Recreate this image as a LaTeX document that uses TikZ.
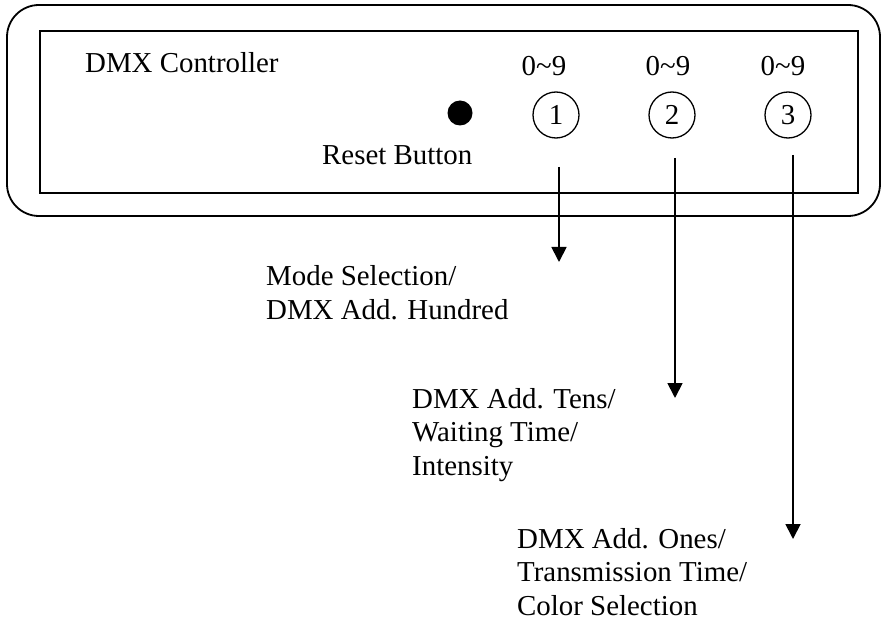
\documentclass[tikz,border=0pt]{standalone}
\usepackage{fontspec}
\setmainfont{Liberation Serif}
\usetikzlibrary{arrows.meta}
\tikzset{
  frame/.style={draw=black, line width=1.8bp},
  caption/.style={anchor=base west, inner sep=0pt, font=\fontsize{29}{33.5}\selectfont, align=left},
  rangetxt/.style={anchor=base, inner sep=0pt, font=\fontsize{29}{33.5}\selectfont},
  knob/.style={circle, draw=black, line width=1.3bp, minimum size=46bp, inner sep=0pt,
               font=\fontsize{29}{33.5}\selectfont},
  lead/.style={draw=black, line width=1.8bp, -{Triangle[width=15bp,length=15bp]}}
}
\begin{document}
\begin{tikzpicture}[x=1bp,y=-1bp]
  \useasboundingbox (0,0) rectangle (882,620);
  % housing and front panel
  \draw[frame, rounded corners=32bp] (7,5) rectangle (880,216);
  \draw[frame] (40,31) rectangle (858,193);
  \node[caption] (title) at (85,73) {DMX Controller};
  % reset button
  \node[circle, fill=black, minimum size=25bp, inner sep=0pt] (reset) at (460,113) {};
  \node[caption] (resetlbl) at (322,165) {Reset Button};
  % rotary switches
  \node[knob] (k1) at (556,115) {1};
  \node[knob] (k2) at (672,115) {2};
  \node[knob] (k3) at (788,115) {3};
  \node[rangetxt] (r1) at (544,76) {0\char`~9};
  \node[rangetxt] (r2) at (668,76) {0\char`~9};
  \node[rangetxt] (r3) at (783,76) {0\char`~9};
  % functions of the switches (anchor sits on the last line)
  \node[caption] (f1) at (266,319) {Mode Selection/\\DMX Add. Hundred};
  \node[caption] (f2) at (412,475) {DMX Add. Tens/\\Waiting Time/\\Intensity};
  \node[caption] (f3) at (517,615) {DMX Add. Ones/\\Transmission Time/\\Color Selection};
  \coordinate (s1) at (559,167);
  \coordinate (e1) at (559,262);
  \coordinate (s2) at (675,158);
  \coordinate (e2) at (675,398);
  \coordinate (s3) at (793,155);
  \coordinate (e3) at (793,539);
  \draw[lead] (s1) -- (e1);
  \draw[lead] (s2) -- (e2);
  \draw[lead] (s3) -- (e3);
\end{tikzpicture}
\end{document}
